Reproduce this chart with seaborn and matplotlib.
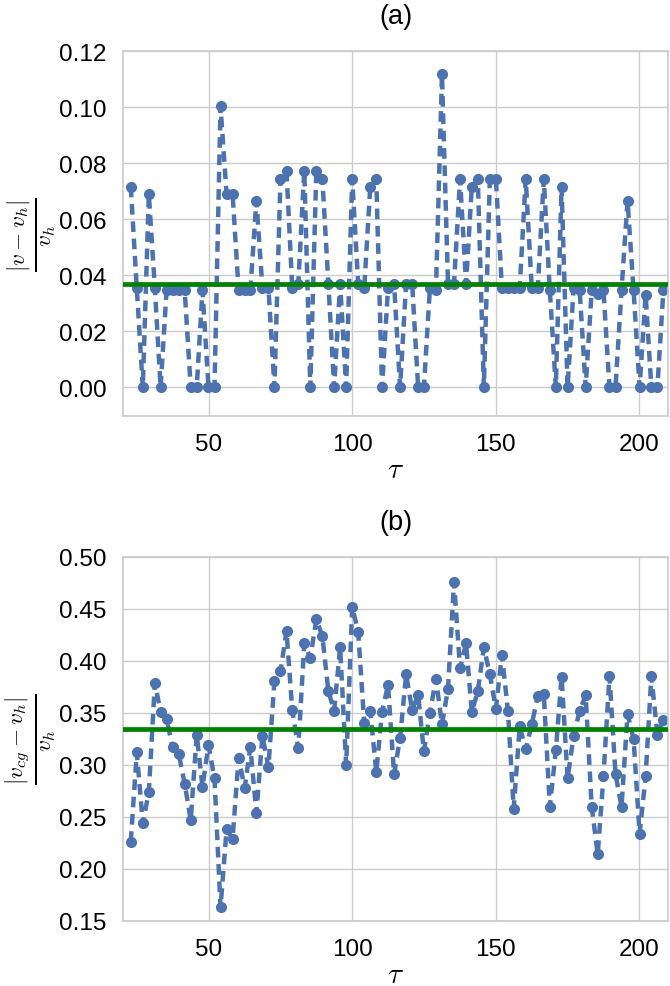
import numpy as np
import pandas as pd
import matplotlib
matplotlib.use("Agg")
import matplotlib.pyplot as plt
import seaborn as sns

# ---------------- data ----------------
tau = [22.7, 24.8, 26.9, 29.0, 31.1, 33.1, 35.2, 37.3, 39.4, 41.5,
       43.6, 45.7, 47.7, 49.8, 51.9, 54.0, 56.1, 58.2, 60.3, 62.4,
       64.4, 66.5, 68.6, 70.7, 72.8, 74.9, 77.0, 79.0, 81.1, 83.2,
       85.3, 87.4, 89.5, 91.6, 93.6, 95.7, 97.8, 99.9, 102.0, 104.1,
       106.2, 108.3, 110.3, 112.4, 114.5, 116.6, 118.7, 120.8, 122.9, 124.9,
       127.0, 129.1, 131.2, 133.3, 135.4, 137.5, 139.6, 141.6, 143.7, 145.8,
       147.9, 150.0, 152.1, 154.2, 156.2, 158.3, 160.4, 162.5, 164.6, 166.7,
       168.8, 170.9, 172.9, 175.0, 177.1, 179.2, 181.3, 183.4, 185.5, 187.5,
       189.6, 191.7, 193.8, 195.9, 198.0, 200.1, 202.2, 204.2, 206.3, 208.4]

rel_v = [0.0716, 0.0355, 0.0, 0.069, 0.0355, 0.0, 0.0347, 0.0347, 0.0347, 0.0347,
         0.0, 0.0, 0.0347, 0.0, 0.0, 0.1003, 0.069, 0.069, 0.0347, 0.0347,
         0.0347, 0.0666, 0.0355, 0.0355, 0.0, 0.0744, 0.0773, 0.0355, 0.037, 0.0773,
         0.0, 0.0773, 0.0744, 0.037, 0.0, 0.037, 0.0, 0.0744, 0.037, 0.0355,
         0.0716, 0.0744, 0.0, 0.0355, 0.037, 0.0, 0.037, 0.037, 0.0, 0.0,
         0.0355, 0.0347, 0.1117, 0.037, 0.037, 0.0744, 0.037, 0.0716, 0.0744, 0.0,
         0.0744, 0.0744, 0.0355, 0.0355, 0.0355, 0.0355, 0.0744, 0.0355, 0.0355, 0.0744,
         0.0347, 0.0, 0.0716, 0.0, 0.0355, 0.0347, 0.0, 0.0347, 0.0334, 0.0347,
         0.0, 0.0, 0.0347, 0.0666, 0.0347, 0.0, 0.033, 0.0, 0.0, 0.0347]

rel_vcg = [0.226, 0.312, 0.244, 0.274, 0.379, 0.351, 0.344, 0.317, 0.311, 0.282,
           0.247, 0.329, 0.279, 0.319, 0.287, 0.163, 0.238, 0.229, 0.307, 0.278,
           0.317, 0.254, 0.328, 0.298, 0.381, 0.390, 0.429, 0.353, 0.316, 0.417,
           0.403, 0.440, 0.424, 0.371, 0.352, 0.413, 0.300, 0.452, 0.428, 0.340,
           0.352, 0.293, 0.351, 0.377, 0.291, 0.326, 0.387, 0.353, 0.367, 0.313,
           0.350, 0.383, 0.339, 0.373, 0.476, 0.393, 0.417, 0.351, 0.371, 0.413,
           0.387, 0.354, 0.406, 0.352, 0.258, 0.337, 0.315, 0.339, 0.366, 0.368,
           0.260, 0.314, 0.385, 0.287, 0.328, 0.352, 0.367, 0.260, 0.214, 0.289,
           0.386, 0.291, 0.260, 0.349, 0.325, 0.234, 0.289, 0.386, 0.329, 0.343]

mean_v = 0.037
mean_vcg = 0.335

xticks = [50, 100, 150, 200]
yticks_a = [0.00, 0.02, 0.04, 0.06, 0.08, 0.10, 0.12]
yticks_b = [0.15, 0.20, 0.25, 0.30, 0.35, 0.40, 0.45, 0.50]

# ---------------- style ----------------
sns.set_theme(style="whitegrid")
plt.rcParams["font.family"] = ["Liberation Sans", "DejaVu Sans"]
plt.rcParams["mathtext.fontset"] = "cm"

blue = sns.color_palette("deep")[0]

fig = plt.figure(figsize=(6.7, 9.87), dpi=100)
ax1 = fig.add_axes([0.1836, 0.5775, 0.8134, 0.3698])
ax2 = fig.add_axes([0.1836, 0.0659, 0.8134, 0.3688])

df_a = pd.DataFrame({"tau": tau, "val": rel_v})
df_b = pd.DataFrame({"tau": tau, "val": rel_vcg})

for ax, df, mval, yt, ylim, title, ylabel in [
    (ax1, df_a, mean_v, yticks_a, (-0.0102, 0.12), "(a)", r"$\frac{|v-v_h|}{v_h}$"),
    (ax2, df_b, mean_vcg, yticks_b, (0.15, 0.50), "(b)", r"$\frac{|v_{cg}-v_h|}{v_h}$"),
]:
    sns.lineplot(data=df, x="tau", y="val", ax=ax, color=blue,
                 linewidth=3.2, dashes=False, marker="o", markersize=8,
                 markeredgewidth=0, errorbar=None, sort=False)
    line = ax.lines[-1]
    line.set_linestyle((0, (2.4, 1.5)))
    ax.axhline(mval, color="green", linewidth=3.4, zorder=3)
    ax.set_xlim(20, 210)
    ax.set_ylim(*ylim)
    ax.set_xticks(xticks)
    ax.set_yticks(yt)
    ax.set_yticklabels([f"{v:.2f}" for v in yt])
    ax.tick_params(axis="both", labelsize=17.5, pad=6, labelcolor="black")
    ax.set_title(title, fontsize=19.5, pad=20, color="black")
    ax.set_xlabel(r"$\tau$", fontsize=21, labelpad=0, color="black")
    ax.set_ylabel(ylabel, fontsize=24, color="black")
    ax.yaxis.set_label_coords(-0.119, 0.5)
    for s in ax.spines.values():
        s.set_color("#cccccc")

fig.savefig("out.png", dpi=100)
